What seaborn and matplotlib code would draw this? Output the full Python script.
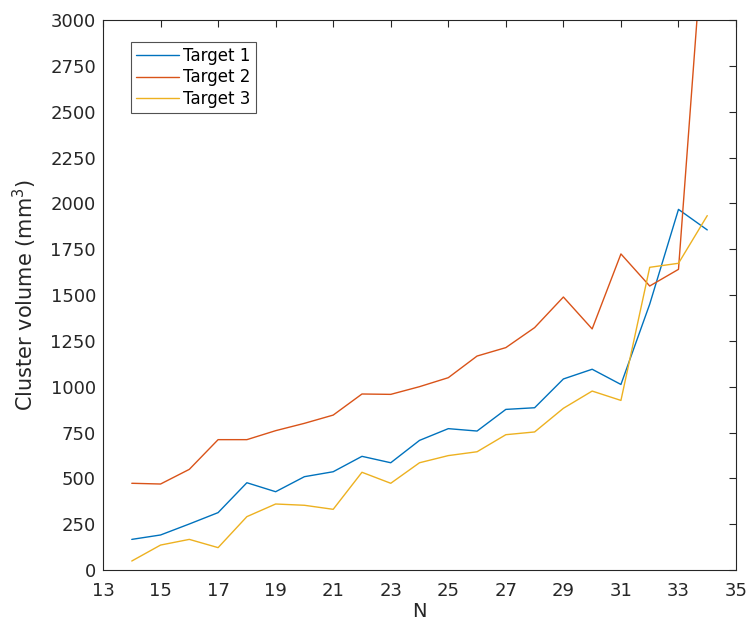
import matplotlib
matplotlib.use("Agg")
import matplotlib.pyplot as plt
import seaborn as sns
import pandas as pd

n_values = list(range(14, 35))
target1 = [167, 191, 251, 313, 476, 427, 509, 536, 620, 585, 707, 771, 758, 876, 885,
           1042, 1095, 1012, 1450, 1967, 1855]
target2 = [473, 469, 549, 711, 711, 760, 800, 845, 960, 958, 1000, 1049, 1167, 1213, 1322,
           1489, 1315, 1724, 1549, 1640, 3760]
target3 = [49, 136, 167, 122, 291, 360, 353, 331, 533, 473, 585, 624, 645, 738, 753,
           882, 976, 925, 1651, 1673, 1933]
series_names = ["Target 1", "Target 2", "Target 3"]
colors = ["#0072BD", "#D95319", "#EDB120"]
x_ticks = list(range(13, 36, 2))
y_ticks = list(range(0, 3001, 250))

df = pd.DataFrame({
    "N": n_values * 3,
    "volume": target1 + target2 + target3,
    "series": [s for s in series_names for _ in n_values],
})

sns.set_style("white")
plt.rcParams["font.family"] = ["DejaVu Sans"]
axis_color = "#262626"

fig = plt.figure(figsize=(7.48, 6.25), dpi=100)
ax = fig.add_axes([0.1377, 0.088, 0.8463, 0.88])

sns.lineplot(data=df, x="N", y="volume", hue="series", palette=colors,
             linewidth=1.0, ax=ax)

ax.set_xlim(13, 35)
ax.set_ylim(0, 3000)
ax.set_xticks(x_ticks)
ax.set_yticks(y_ticks)
ax.tick_params(direction="in", length=5, width=0.8, colors=axis_color,
               labelcolor=axis_color, labelsize=13, top=True, right=True,
               labeltop=False, labelright=False)
ax.tick_params(axis="x", pad=9)
ax.tick_params(axis="y", pad=5)
for spine in ax.spines.values():
    spine.set_color(axis_color)
    spine.set_linewidth(0.8)
    spine.set_visible(True)

ax.set_xlabel("N", fontsize=14, color=axis_color, labelpad=1)
ax.set_ylabel("Cluster volume (mm$^3$)", fontsize=15, color=axis_color, labelpad=8)

handles, labels = ax.get_legend_handles_labels()
leg = ax.legend(handles, labels, loc="upper left", bbox_to_anchor=(0.044, 0.96),
                borderaxespad=0, fontsize=12, frameon=True, fancybox=False,
                handlelength=2.6, handletextpad=0.25, labelspacing=0.2,
                borderpad=0.3)
leg.get_frame().set_edgecolor("#262626")
leg.get_frame().set_linewidth(0.8)
for t in leg.get_texts():
    t.set_color("#000000")

fig.savefig("out.png", dpi=100)
